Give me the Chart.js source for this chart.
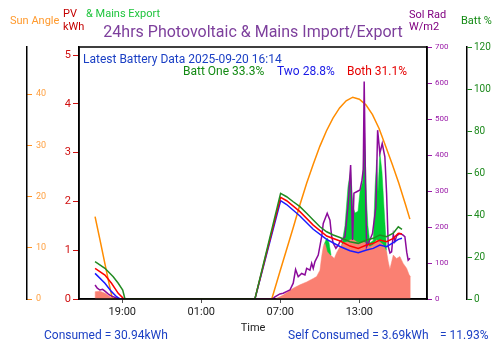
<!DOCTYPE html>
<html>
<head>
<meta charset="utf-8">
<script src="https://cdn.jsdelivr.net/npm/chart.js@4.4.1/dist/chart.umd.min.js"></script>
<style>
  body { margin: 0; background: #fff; }
</style>
</head>
<body>
<canvas id="my-PV-Chart" width="500" height="353"></canvas>
<script>
// x = hours from midnight of the first day (24+ = next day)
const xTicks = [19, 25, 31, 37];
const pvTicks = [0, 1, 2, 3, 4, 5];
const sunTicks = [0, 10, 20, 30, 40];

// Sun angle (deg)
const sunAngle = [[16.93,16.1],[17.3,11.6],[17.7,6.6],[18.0,2.9],[18.25,0],[30.35,0],[31.0,5.6],[32.0,14.1],
  [32.5,18.5],[33.0,22.6],[33.5,26.3],[34.0,29.8],[34.5,32.8],[35.0,35.3],[35.5,37.3],[36.0,38.7],[36.5,39.4],
  [37.0,39.0],[37.5,37.9],[38.0,36.0],[38.5,33.3],[39.0,29.8],[39.5,26.3],[40.0,22.6],[40.5,18.5],[40.84,15.6]];

// Solar radiation (W/m2)
const solRad = [[16.93,39],[17.1,30],[17.3,25],[17.5,27],[17.68,22],[17.9,15],[18.06,11],[18.3,6],[18.57,3],[18.95,0],
  [30.4,0],[30.59,6],[30.97,14],[31.22,16],[31.5,21],[31.73,25],[31.98,44],[32.16,82],[32.36,62],[32.62,71],[32.87,67],
  [33.0,85],[33.25,80],[33.38,99],[33.5,85],[33.63,104],[33.88,122],[34.14,173],[34.26,210],[34.56,238],[34.77,219],
  [34.9,173],[35.02,155],[35.22,141],[35.4,150],[35.53,159],[35.91,173],[36.16,266],[36.34,372],[36.49,164],[36.59,294],
  [36.8,298],[37.05,303],[37.2,330],[37.3,360],[37.37,604],[37.47,320],[37.55,145],[37.8,164],[38.0,182],[38.26,256],
  [38.39,469],[38.56,405],[38.74,432],[38.94,395],[39.07,294],[39.2,145],[39.33,128],[39.45,131],[39.58,180],[39.7,160],
  [39.83,175],[40.08,182],[40.3,178],[40.46,173],[40.6,130],[40.71,108],[40.85,113]];

// PV generation (kWh)
const pvKwh = [[16.93,0],[16.94,0.15],[17.3,0.16],[17.68,0.12],[18.06,0.05],[18.31,0],[30.6,0],[31.22,0.08],[31.98,0.22],
  [32.49,0.29],[33.0,0.35],[33.5,0.42],[33.76,0.46],[34.01,0.59],[34.14,0.87],[34.26,1.07],[34.39,1.14],[34.56,0.97],
  [34.77,0.9],[34.9,0.88],[35.1,0.83],[35.28,0.95],[35.53,1.07],[35.78,1.14],[36.04,1.17],[36.29,1.21],[36.54,1.22],
  [36.8,1.17],[37.05,1.14],[37.3,1.17],[37.55,1.14],[37.8,1.07],[38.06,1.11],[38.31,1.21],[38.56,1.17],[38.82,1.11],
  [39.07,0.97],[39.2,0.76],[39.32,0.61],[39.58,0.9],[39.83,0.83],[40.08,0.87],[40.33,0.73],[40.59,0.63],[40.79,0.49],[40.9,0.46]];

// Mains export (kWh), only where it shows above PV
const mainsExport = [[34.3,1.1],[34.45,1.2],[34.56,1.25],[34.7,1.15],[34.85,0.9],[35.2,null],
  [35.6,1.0],[35.91,1.5],[36.14,2.3],[36.34,2.64],[36.51,1.9],[36.67,1.76],[36.9,1.8],[37.05,2.2],[37.25,2.4],[37.4,3.4],
  [37.55,2.0],[37.65,1.5],[37.8,1.15],[38.06,1.2],[38.2,2.3],[38.32,2.85],[38.42,2.2],[38.56,3.0],[38.72,2.6],[38.87,1.9],[39.07,1.0]];

// Battery % (one, two, both)
const battOne = [[16.93,17.8],[17.68,14.6],[18.31,10.6],[18.69,7.5],[19.03,4.3],[19.2,0],[29.07,0],[31.02,50.3],[31.48,48.7],
  [31.98,46.3],[32.49,44.0],[33.0,40.8],[33.5,37.6],[34.01,34.4],[34.52,32.0],[35.02,30.5],[35.53,29.3],[36.29,27.3],
  [36.92,26.5],[37.55,28.1],[38.06,28.9],[38.56,30.5],[39.07,29.7],[39.58,31.3],[39.96,34.4],[40.24,33.2]];
const battTwo = [[16.93,12.2],[17.68,7.5],[18.18,3.5],[18.57,1.1],[18.82,0],[29.07,0],[31.02,46.8],[31.48,45.0],[32.49,39.5],
  [33.5,33.2],[34.52,28.4],[35.53,25.0],[36.29,23.0],[36.92,22.0],[37.55,23.3],[38.06,24.1],[38.56,25.7],[39.07,24.9],
  [39.58,26.8],[39.96,28.4],[40.24,28.9]];
const battBoth = [[16.93,14.6],[17.68,11.4],[18.18,7.5],[18.69,2.7],[19.07,0.3],[19.2,0],[29.07,0],[31.02,48.4],[31.48,46.8],
  [32.49,41.6],[33.5,35.2],[34.52,30.0],[35.53,27.6],[36.29,25.2],[36.92,24.1],[37.55,25.7],[38.06,26.5],[38.56,28.1],
  [39.07,27.3],[39.58,28.9],[39.96,31.3],[40.24,31.0]];

// summary figures
const latestTime = '2025-09-20 16:14';
const battNow = [33.3, 28.8, 31.1];
const consumed = 30.94;
const selfConsumed = 3.69;
const selfPct = 11.93;

const toXY = arr => arr.map(p => ({x: p[0], y: p[1]}));

const extraText = {
  id: 'extraText',
  afterDatasetsDraw(chart) {
    const {ctx, chartArea: a} = chart;
    ctx.save();
    ctx.strokeStyle = '#000';
    ctx.lineWidth = 1.5;
    ctx.strokeRect(a.left, a.top, a.right - a.left, a.bottom - a.top);
    ctx.restore();
  },
  afterDraw(chart) {
    const ctx = chart.ctx;
    ctx.save();
    ctx.textBaseline = 'middle';
    const put = (s, x, y, size, color, align) => {
      ctx.font = size + 'px Roboto';
      ctx.fillStyle = color;
      ctx.textAlign = align || 'left';
      ctx.fillText(s, x, y);
    };
    put('24hrs Photovoltaic & Mains Import/Export', 253, 33, 16, '#7d3f9c', 'center');
    put('Sun Angle', 10, 21, 11, '#ff9a2e');
    put('PV', 63, 14, 11, '#c40000');
    put('kWh', 63, 27, 11, '#c40000');
    put('& Mains Export', 86, 14, 11, '#1ec43c');
    put('Sol Rad', 409, 15, 11, '#800080');
    put('W/m2', 409, 27, 11, '#800080');
    put('Batt %', 461, 21, 11, '#138a13');
    put('Latest Battery Data ' + latestTime, 83, 60, 12, '#1a3fc4');
    put('Batt One ' + battNow[0] + '%', 183, 72, 12, '#138a13');
    put('Two ' + battNow[1] + '%', 277, 72, 12, '#1a1ae6');
    put('Both ' + battNow[2] + '%', 347, 72, 12, '#e60000');
    put('Consumed = ' + consumed + 'kWh', 44, 336, 12, '#1a3fc4');
    put('Self Consumed = ' + selfConsumed + 'kWh', 288, 336, 12, '#1a3fc4');
    put('= ' + selfPct + '%', 440, 336, 12, '#1a3fc4');
    ctx.restore();
  }
};

const lineDs = (label, data, color, axis, order) => ({
  label, data: toXY(data), yAxisID: axis, order,
  borderColor: color, borderWidth: 1.5, pointRadius: 0, fill: false, tension: 0
});

const ctx = document.getElementById('my-PV-Chart').getContext('2d');
new Chart(ctx, {
  type: 'line',
  data: {
    datasets: [
      lineDs('Batt One', battOne, '#228b22', 'yBatt', 1),
      lineDs('Batt Both', battBoth, '#ff0000', 'yBatt', 1),
      lineDs('Batt Two', battTwo, '#1a1aff', 'yBatt', 1),
      lineDs('Sol Rad', solRad, '#8b0a9b', 'ySol', 2),
      lineDs('Sun Angle', sunAngle, '#ff8c00', 'ySun', 3),
      {
        label: 'PV', data: toXY(pvKwh), yAxisID: 'yPV', order: 4,
        borderColor: '#fa8072', backgroundColor: '#fa8072', borderWidth: 0.5,
        pointRadius: 0, fill: 'origin', tension: 0
      },
      {
        label: 'Mains Export', data: toXY(mainsExport), yAxisID: 'yPV', order: 5,
        borderColor: '#00cc33', backgroundColor: '#00cc33', borderWidth: 0.5,
        pointRadius: 0, fill: 'origin', tension: 0, spanGaps: false
      }
    ]
  },
  options: {
    responsive: false,
    animation: false,
    devicePixelRatio: 1,
    layout: { padding: { top: 47, bottom: 18, left: 0, right: 0 } },
    plugins: { legend: { display: false }, tooltip: { enabled: false } },
    scales: {
      x: {
        type: 'linear', position: 'bottom', min: 15.71, max: 42.14,
        afterBuildTicks: axis => { axis.ticks = xTicks.map(v => ({value: v})); },
        afterFit: axis => { axis.height = 36; },
        ticks: {
          color: '#222', font: {family: 'Roboto', size: 11}, padding: 3, maxRotation: 0,
          callback: v => String(v % 24).padStart(2, '0') + ':00'
        },
        grid: { drawOnChartArea: false, tickLength: 4, color: '#555' },
        border: { color: '#000', width: 1.5 },
        title: { display: true, text: 'Time', color: '#222', font: {family: 'Roboto', size: 11}, padding: 0 }
      },
      yPV: {
        position: 'left', min: 0, max: 5.164,
        afterBuildTicks: axis => { axis.ticks = pvTicks.map(v => ({value: v})); },
        afterFit: axis => { axis.width = 52; },
        ticks: { color: '#d01010', font: {family: 'Roboto', size: 11}, padding: 2 },
        grid: { drawOnChartArea: false, tickLength: 6, color: '#d01010' },
        border: { color: '#000', width: 1.5 }
      },
      ySun: {
        position: 'left', min: 0, max: 49.2,
        afterBuildTicks: axis => { axis.ticks = sunTicks.map(v => ({value: v})); },
        afterFit: axis => { axis.width = 27; },
        ticks: { mirror: true, padding: 9, color: '#ffa040', font: {family: 'Roboto', size: 9} },
        grid: { drawOnChartArea: false, tickLength: -5, color: '#ff9020' },
        border: { color: '#000', width: 1.5 }
      },
      ySol: {
        position: 'right', min: 0, max: 700,
        afterFit: axis => { axis.width = 40; },
        ticks: { stepSize: 100, color: '#9a1aa8', font: {family: 'Roboto', size: 8}, padding: 3 },
        grid: { drawOnChartArea: false, tickLength: 5, color: '#9a1aa8' },
        border: { color: '#000', width: 1.5 }
      },
      yBatt: {
        position: 'right', min: 0, max: 120,
        afterFit: axis => { axis.width = 33; },
        ticks: { stepSize: 20, color: '#1e8a1e', font: {family: 'Roboto', size: 10}, padding: 2 },
        grid: { drawOnChartArea: false, tickLength: 5, color: '#1e8a1e' },
        border: { color: '#000', width: 1.5 }
      }
    }
  },
  plugins: [extraText]
});
</script>
</body>
</html>
